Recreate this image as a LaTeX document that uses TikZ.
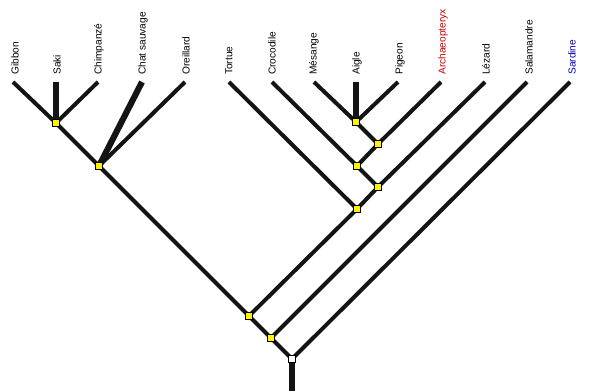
\documentclass[tikz,border=0pt]{standalone}
\usepackage{fontspec}
\setmainfont{Liberation Sans}
\begin{document}
\begin{tikzpicture}[x=0.75pt,y=-0.75pt,
  branch/.style={line width=3pt,black!92,line cap=butt},
  thickbranch/.style={line width=4.6pt,black!92,line cap=butt},
  knot/.style={draw=black,line width=0.5pt,fill=yellow,minimum size=5.5pt,inner sep=0pt},
  rootknot/.style={draw=black,line width=0.5pt,fill=white,minimum size=5.5pt,inner sep=0pt},
  taxon/.style={rotate=90,anchor=west,inner sep=0pt,font=\fontsize{7.6pt}{9pt}\selectfont}]
\useasboundingbox (0,0) rectangle (601,391);
% leaf tips
\coordinate (gib) at (13,82);
\coordinate (sak) at (56,82);
\coordinate (chi) at (98,82);
\coordinate (cha) at (142,82);
\coordinate (ore) at (185,82);
\coordinate (tor) at (229,82);
\coordinate (cro) at (272,82);
\coordinate (mes) at (314,82);
\coordinate (aig) at (356,82);
\coordinate (pig) at (398,82);
\coordinate (arc) at (441,82);
\coordinate (lez) at (485,82);
\coordinate (sal) at (527,82);
\coordinate (sar) at (570,82);
\coordinate (base) at (292,391);
% internal nodes
\node[knot] (n1) at (56,123) {};
\node[knot] (n2) at (99,166) {};
\node[knot] (b1) at (356,122) {};
\node[knot] (b2) at (378,144) {};
\node[knot] (b3) at (357,166) {};
\node[knot] (b4) at (378,187) {};
\node[knot] (b5) at (357,209) {};
\node[knot] (t1) at (249,316) {};
\node[knot] (t2) at (271,338) {};
\node[rootknot] (r) at (292,359) {};
% branches
\begin{scope}[on background layer/.try]
\draw[branch] (gib) -- (n1.center);
\draw[thickbranch] (sak) -- (n1.center);
\draw[branch] (chi) -- (n1.center);
\draw[branch] (n1.center) -- (n2.center);
\draw[thickbranch] (cha) -- (n2.center);
\draw[branch] (ore) -- (n2.center);
\draw[branch] (n2.center) -- (t1.center);
\draw[branch] (mes) -- (b1.center);
\draw[thickbranch] (aig) -- (b1.center);
\draw[branch] (pig) -- (b1.center);
\draw[branch] (b1.center) -- (b2.center);
\draw[branch] (arc) -- (b2.center);
\draw[branch] (b2.center) -- (b3.center);
\draw[branch] (cro) -- (b3.center);
\draw[branch] (b3.center) -- (b4.center);
\draw[branch] (lez) -- (b4.center);
\draw[branch] (b4.center) -- (b5.center);
\draw[branch] (tor) -- (b5.center);
\draw[branch] (b5.center) -- (t1.center);
\draw[branch] (t1.center) -- (t2.center);
\draw[branch] (sal) -- (t2.center);
\draw[branch] (t2.center) -- (r.center);
\draw[branch] (sar) -- (r.center);
\draw[thickbranch] (r.center) -- (base);
\end{scope}
% redraw knots on top
\node[knot] at (n1) {};
\node[knot] at (n2) {};
\node[knot] at (b1) {};
\node[knot] at (b2) {};
\node[knot] at (b3) {};
\node[knot] at (b4) {};
\node[knot] at (b5) {};
\node[knot] at (t1) {};
\node[knot] at (t2) {};
\node[rootknot] at (r) {};
% labels
\node[taxon] (lgib) at (15,75) {Gibbon};
\node[taxon] (lsak) at (57,75) {Saki};
\node[taxon] (lchi) at (99,75) {Chimpanzé};
\node[taxon] (lcha) at (143,75) {Chat sauvage};
\node[taxon] (lore) at (186,75) {Oreillard};
\node[taxon] (ltor) at (229,75) {Tortue};
\node[taxon] (lcro) at (272,75) {Crocodile};
\node[taxon] (lmes) at (314,75) {Mésange};
\node[taxon] (laig) at (357,75) {Aigle};
\node[taxon] (lpig) at (400,75) {Pigeon};
\node[taxon,text={rgb,255:red,204;green,0;blue,0}] (larc) at (443,75) {Archaeopteryx};
\node[taxon] (llez) at (486,75) {Lézard};
\node[taxon] (lsal) at (529,75) {Salamandre};
\node[taxon,text={rgb,255:red,0;green,0;blue,190}] (lsar) at (572,75) {Sardine};
\end{tikzpicture}
\end{document}
